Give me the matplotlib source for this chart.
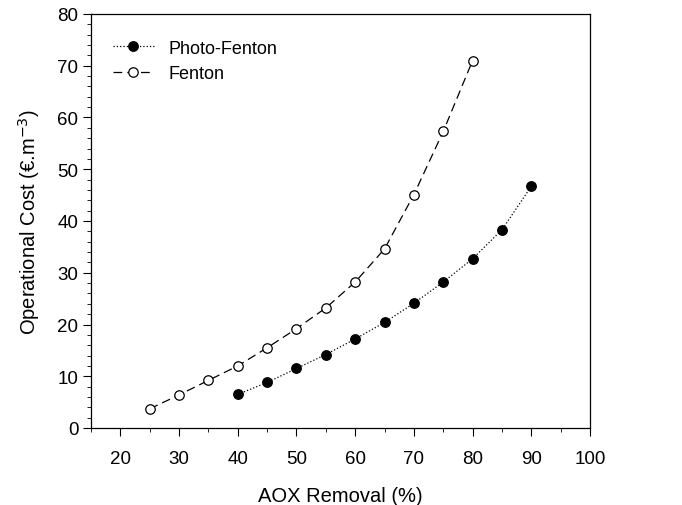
import matplotlib
matplotlib.use("Agg")
import matplotlib.pyplot as plt
from matplotlib.ticker import MultipleLocator

plt.rcParams['font.family'] = ['Liberation Sans', 'DejaVu Sans']

# data
fenton_x = [25, 30, 35, 40, 45, 50, 55, 60, 65, 70, 75, 80]
fenton_y = [3.7, 6.4, 9.2, 12.0, 15.5, 19.2, 23.2, 28.2, 34.6, 45.1, 57.3, 71.0]
photo_x = [40, 45, 50, 55, 60, 65, 70, 75, 80, 85, 90]
photo_y = [6.5, 8.8, 11.5, 14.2, 17.2, 20.4, 24.1, 28.2, 32.7, 38.3, 46.7]

fig = plt.figure(figsize=(6.82, 5.06), dpi=100)
ax = fig.add_axes([91/682, 1-429/506, (590-91)/682, (429-15)/506])

ax.plot(photo_x, photo_y, color='black', linestyle=':', linewidth=0.9,
        marker='o', markersize=6.8, markerfacecolor='black', markeredgecolor='black',
        label='Photo-Fenton')
ax.plot(fenton_x, fenton_y, color='black', linestyle=(0, (7, 4)), linewidth=0.9,
        marker='o', markersize=6.8, markerfacecolor='white', markeredgecolor='black',
        markeredgewidth=0.9, label='Fenton')

ax.set_xlim(15, 100)
ax.set_ylim(0, 80)
ax.xaxis.set_major_locator(MultipleLocator(10))
ax.xaxis.set_minor_locator(MultipleLocator(5))
ax.yaxis.set_major_locator(MultipleLocator(10))
ax.yaxis.set_minor_locator(MultipleLocator(2))
ax.tick_params(which='both', direction='out', top=False, right=False, labelsize=13.5)
ax.tick_params(which='major', length=5.5)
ax.tick_params(which='minor', length=3)
ax.tick_params(axis='x', pad=10)
for s in ax.spines.values():
    s.set_linewidth(0.9)

ax.set_xlabel('AOX Removal (%)', fontsize=14.5, labelpad=14)
ax.set_ylabel('Operational Cost (€.m$^{-3}$)', fontsize=14.5, labelpad=11)

ax.legend(loc='upper left', frameon=False, fontsize=13, handlelength=2.3,
          bbox_to_anchor=(0.0, 0.99), borderaxespad=0.8, labelspacing=0.45)

fig.savefig('out.png', dpi=100)
